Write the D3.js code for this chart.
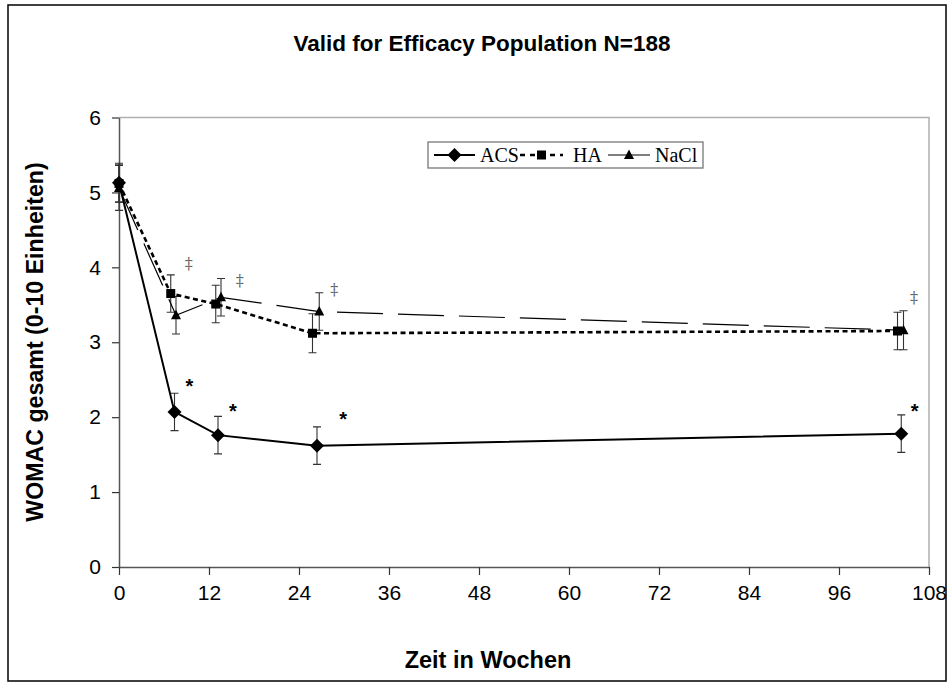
<!DOCTYPE html>
<html><head><meta charset="utf-8">
<script src="https://cdn.jsdelivr.net/npm/d3@7"></script>
<style>html,body{margin:0;padding:0;background:#fff;}svg{display:block;}</style>
</head><body>
<svg id="chart" width="949" height="684"></svg>
<script>
// ---- data ----
const title = "Valid for Efficacy Population N=188";
const xLabel = "Zeit in Wochen";
const yLabel = "WOMAC gesamt (0-10 Einheiten)";
const xTicks = [0, 12, 24, 36, 48, 60, 72, 84, 96, 108];
const yTicks = [0, 1, 2, 3, 4, 5, 6];
const seriesNames = ["ACS", "HA", "NaCl"];
const acsWeeks = [0, 7.4, 13.2, 26.4, 104.3];
const acsValues = [5.13, 2.07, 1.76, 1.62, 1.78];
const acsErr = [0.26, 0.25, 0.25, 0.25, 0.25];
const haWeeks = [0, 6.9, 12.9, 25.8, 103.8];
const haValues = [5.12, 3.65, 3.51, 3.12, 3.15];
const haErr = [0.25, 0.25, 0.25, 0.26, 0.25];
const naclWeeks = [0, 7.6, 13.6, 26.7, 104.6];
const naclValues = [5.06, 3.36, 3.60, 3.41, 3.16];
const naclErr = [0.3, 0.25, 0.25, 0.25, 0.26];
const daggerWeeks = [9.3, 16.1, 28.7, 106.0];
const daggerValues = [4.05, 3.82, 3.71, 3.60];
const starWeeks = [9.4, 15.2, 29.9, 106.1];
const starValues = [2.47, 2.14, 2.03, 2.14];

// ---- layout ----
const svg = d3.select("#chart");
const x = d3.scaleLinear().domain([0, 108]).range([119, 929]);
const y = d3.scaleLinear().domain([0, 6]).range([567, 117.5]);

// outer frame
svg.append("rect").attr("x", 8).attr("y", 5).attr("width", 938).attr("height", 676)
  .attr("fill", "#fff").attr("stroke", "#000").attr("stroke-width", 1.5);

// plot area border (top/right light)
svg.append("path")
  .attr("d", `M${x(0)},${y(6)}H${x(108)}V${y(0)}`)
  .attr("fill", "none").attr("stroke", "#b0b0b0").attr("stroke-width", 1.5);

// axes
const xAxis = d3.axisBottom(x).tickValues(xTicks).tickFormat(d3.format("d"))
  .tickSize(8).tickSizeOuter(0).tickPadding(10);
const gx = svg.append("g").attr("transform", `translate(0,${y(0)})`).call(xAxis);
gx.select(".domain").attr("stroke", "#555").attr("stroke-width", 1.5);
gx.selectAll(".tick line").attr("stroke", "#333").attr("stroke-width", 1.2);
gx.selectAll(".tick text").attr("font-family", "Liberation Sans, Arial, sans-serif")
  .attr("font-size", 21).attr("fill", "#000");

const yAxis = d3.axisLeft(y).tickValues(yTicks).tickFormat(d3.format("d"))
  .tickSize(7).tickSizeOuter(0).tickPadding(11);
const gy = svg.append("g").attr("transform", `translate(${x(0)},0)`).call(yAxis);
gy.select(".domain").attr("stroke", "#555").attr("stroke-width", 1.5);
gy.selectAll(".tick line").attr("stroke", "#333").attr("stroke-width", 1.2);
gy.selectAll(".tick text").attr("font-family", "Liberation Sans, Arial, sans-serif")
  .attr("font-size", 21).attr("fill", "#000");

// titles
svg.append("text").attr("x", 482).attr("y", 51).attr("text-anchor", "middle")
  .attr("font-family", "Liberation Sans, Arial, sans-serif").attr("font-weight", "bold")
  .attr("font-size", 22.5).text(title);
svg.append("text").attr("x", 488).attr("y", 668).attr("text-anchor", "middle")
  .attr("font-family", "Liberation Sans, Arial, sans-serif").attr("font-weight", "bold")
  .attr("font-size", 23.5).text(xLabel);
svg.append("text").attr("transform", "translate(43,342) rotate(-90)").attr("text-anchor", "middle")
  .attr("font-family", "Liberation Sans, Arial, sans-serif").attr("font-weight", "bold")
  .attr("font-size", 23.2).text(yLabel);

// series
const series = [
  {name: "ACS", weeks: acsWeeks, values: acsValues, err: acsErr, dash: null, width: 2, marker: "diamond"},
  {name: "HA", weeks: haWeeks, values: haValues, err: haErr, dash: "5,3.5", width: 2.6, marker: "square"},
  {name: "NaCl", weeks: naclWeeks, values: naclValues, err: naclErr, dash: "46,15", width: 1.2, marker: "triangle"}
];
const markerPath = {
  diamond: "M0,-7L7,0L0,7L-7,0Z",
  square: "M-4.5,-4.5H4.5V4.5H-4.5Z",
  triangle: "M0,-5.5L5,4L-5,4Z"
};
const line = d3.line().x(d => x(d[0])).y(d => y(d[1]));

// error bars first
series.forEach(s => {
  const g = svg.append("g");
  s.weeks.forEach((w, i) => {
    const cx = x(w), t = y(s.values[i] + s.err[i]), b = y(s.values[i] - s.err[i]);
    g.append("path").attr("d", `M${cx},${t}V${b}M${cx-4},${t}H${cx+4}M${cx-4},${b}H${cx+4}`)
      .attr("stroke", "#333").attr("stroke-width", 1.1).attr("fill", "none");
  });
});
series.forEach(s => {
  const pts = s.weeks.map((w, i) => [w, s.values[i]]);
  svg.append("path").attr("d", line(pts)).attr("fill", "none").attr("stroke", "#000")
    .attr("stroke-width", s.width).attr("stroke-dasharray", s.dash);
  svg.append("g").selectAll("path").data(pts).join("path")
    .attr("transform", d => `translate(${x(d[0])},${y(d[1])})`)
    .attr("d", markerPath[s.marker]).attr("fill", "#000");
});

// annotations
svg.append("g").selectAll("text").data(daggerWeeks).join("text")
  .attr("x", (d, i) => x(d)).attr("y", (d, i) => y(daggerValues[i]))
  .attr("text-anchor", "middle").attr("dominant-baseline", "central")
  .attr("font-family", "DejaVu Serif, Liberation Serif, serif").attr("font-size", 16)
  .attr("fill", "#666").text("\u2021");
svg.append("g").selectAll("text").data(starWeeks).join("text")
  .attr("x", (d, i) => x(d)).attr("y", (d, i) => y(starValues[i]) + 4)
  .attr("text-anchor", "middle").attr("dominant-baseline", "central")
  .attr("font-family", "Liberation Sans, Arial, sans-serif").attr("font-size", 20).attr("font-weight", "bold")
  .attr("fill", "#000").text("*");

// legend
const lg = svg.append("g");
lg.append("rect").attr("x", 428).attr("y", 142).attr("width", 275).attr("height", 26)
  .attr("fill", "#fff").attr("stroke", "#777").attr("stroke-width", 1.3);
const legendItems = [
  {s: series[0], x0: 434, x1: 475, tx: 480},
  {s: series[1], x0: 520, x1: 563, tx: 573},
  {s: series[2], x0: 608, x1: 650, tx: 655}
];
legendItems.forEach(it => {
  const ly = 155;
  lg.append("line").attr("x1", it.x0).attr("x2", it.x1).attr("y1", ly).attr("y2", ly)
    .attr("stroke", "#000").attr("stroke-width", it.s.name === "NaCl" ? 1.2 : (it.s.name === "HA" ? 2.6 : 2))
    .attr("stroke-dasharray", it.s.name === "HA" ? "5,5" : null);
  lg.append("path").attr("transform", `translate(${(it.x0 + it.x1) / 2},${ly})`)
    .attr("d", markerPath[it.s.marker]).attr("fill", "#000");
  lg.append("text").attr("x", it.tx).attr("y", 161.5)
    .attr("font-family", "Liberation Serif, Times New Roman, serif").attr("font-size", 20)
    .attr("fill", "#000").text(it.s.name);
});
</script>
</body></html>
